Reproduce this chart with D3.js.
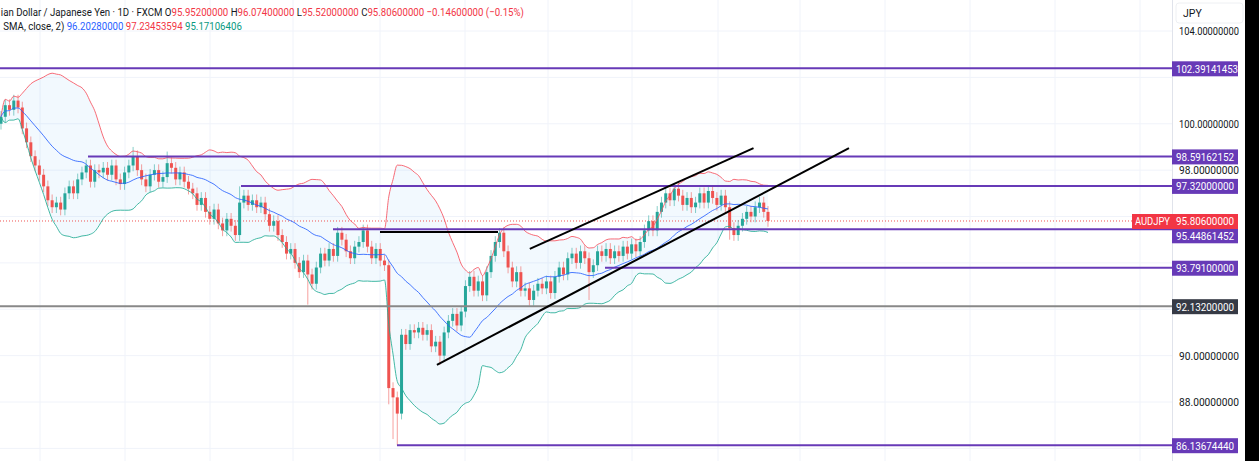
<!DOCTYPE html>
<html><head><meta charset="utf-8">
<script src="https://cdn.jsdelivr.net/npm/d3@7"></script>
<style>body{margin:0;background:#fff;font-family:Roboto,"Liberation Sans",sans-serif}</style>
</head><body><div id="chart"></div>
<script>
var width = 1259, height = 461;

// daily closes
var closes = [100.3,100.8,100.6,101.0,100.7,99.8,99.2,98.6,98.2,97.8,97.3,96.7,96.4,96.6,96.3,97.0,97.3,97.0,97.6,97.9,
  98.2,97.5,98.0,97.9,98.1,97.8,98.2,97.6,97.4,97.9,98.2,98.6,98.0,97.6,97.3,97.8,98.0,97.5,97.7,98.3,
  98.1,97.6,97.9,97.5,97.2,97.0,96.5,96.8,96.2,95.9,96.3,95.7,95.4,95.9,95.6,95.2,96.6,96.9,96.5,96.7,
  96.4,96.6,96.1,95.6,95.8,95.2,94.9,94.4,94.6,94.0,93.6,94.1,93.5,93.1,93.8,94.4,94.1,94.6,94.3,95.3,
  95.0,94.5,94.2,94.7,94.9,95.4,94.7,94.2,94.6,94.1,93.9,88.6,88.2,87.5,90.9,90.5,91.1,91.0,91.2,90.9,
  91.1,90.4,90.6,90.0,91.0,91.5,91.8,91.3,91.9,93.0,93.4,92.8,93.2,92.6,93.6,94.3,94.9,95.3,94.5,93.8,
  93.2,93.6,92.8,92.9,92.4,92.8,93.1,92.9,93.2,92.7,93.4,93.8,93.5,94.2,94.4,94.0,94.5,94.2,93.6,93.9,
  94.5,94.3,94.6,94.2,94.5,94.3,94.7,94.4,94.8,94.5,94.9,95.4,95.8,95.4,96.2,96.6,97.0,96.7,97.2,96.9,
  96.5,96.8,96.4,96.6,97.0,96.6,97.1,96.8,96.5,96.9,96.4,95.5,95.2,95.6,95.9,96.2,96.0,96.4,96.6,96.2,95.806];
var firstOpen = 100.0;
// notable wick extremes
var specialLows = {93: 86.137, 92: 86.4, 91: 87.9, 72: 92.2, 103: 89.6, 138: 92.4, 171: 95.0};
var specialHighs = {31: 99.0, 39: 98.8, 117: 95.5, 158: 97.45, 56: 97.3};

var hLines = [
  {price: 102.39141453, from: 0, color: "#673ab7", label: "102.39141453"},
  {price: 98.59162152, from: 88, color: "#673ab7", label: "98.59162152"},
  {price: 97.32, from: 241, color: "#673ab7", label: "97.32000000"},
  {price: 95.44861452, from: 333, color: "#673ab7", label: "95.44861452", shift: 6},
  {price: 93.791, from: 605, color: "#673ab7", label: "93.79100000"},
  {price: 92.132, from: 0, color: "#888888", label: "92.13200000", bg: "#363a45"},
  {price: 86.1367444, from: 397, color: "#673ab7", label: "86.13674440"}
];
var trendLines = [
  [[102.3, 89.6], [199, 98.95]],
  [[124.1, 94.6], [176.6, 98.95]]
];
var priceTicks = [104, 102, 100, 98, 96, 94, 90, 88];

var plotRight = 1172;
var x = d3.scaleLinear().domain([0, 180]).range([1, 768]);
var y = d3.scaleLinear().domain([88, 104]).range([402, 31]);

var data = closes.map(function(c, i){
  var o = i === 0 ? firstOpen : closes[i-1];
  var hi = specialHighs[i] !== undefined ? specialHighs[i] : Math.max(o, c) + 0.25;
  var lo = specialLows[i] !== undefined ? specialLows[i] : Math.min(o, c) - 0.25;
  return {i: i, o: o, c: c, h: hi, l: lo};
});

// bollinger (20, 2)
var bb = data.map(function(d, i){
  var w = closes.slice(Math.max(0, i-19), i+1);
  var m = d3.mean(w), sd = Math.sqrt(d3.mean(w, function(v){ return (v-m)*(v-m); }));
  return {i: i, m: m, u: m + 2*sd, l: m - 2*sd};
});

var svg = d3.select("#chart").append("svg").attr("width", width).attr("height", height);

// grid
svg.selectAll(".hg").data(d3.range(86, 106, 2)).enter().append("line")
  .attr("x1", 0).attr("x2", plotRight).attr("y1", d => y(d)).attr("y2", d => y(d))
  .attr("stroke", "#f0f3fa");
svg.selectAll(".vg").data([40, 125, 210, 293, 380, 465, 548, 632, 718, 800, 885, 970, 1055, 1140]).enter().append("line")
  .attr("x1", d => d).attr("x2", d => d).attr("y1", 0).attr("y2", height)
  .attr("stroke", "#f0f3fa");

// band fill
svg.append("path").datum(bb)
  .attr("d", d3.area().x(d => x(d.i)).y0(d => y(d.l)).y1(d => y(d.u)).curve(d3.curveMonotoneX))
  .attr("fill", "rgba(33,150,243,0.06)");

// current price dotted
svg.append("line").attr("x1", 0).attr("x2", plotRight).attr("y1", y(95.806)).attr("y2", y(95.806))
  .attr("stroke", "#ef5350").attr("stroke-dasharray", "1,2");

// candles
var g = svg.append("g");
g.selectAll(".wick").data(data).enter().append("line")
  .attr("x1", d => x(d.i)).attr("x2", d => x(d.i))
  .attr("y1", d => y(d.h)).attr("y2", d => y(d.l))
  .attr("stroke", d => d.c >= d.o ? "#26a69a" : "#ef5350").attr("stroke-opacity", 0.55);
g.selectAll(".body").data(data).enter().append("rect")
  .attr("x", d => x(d.i) - 1.5).attr("width", 3)
  .attr("y", d => y(Math.max(d.o, d.c)))
  .attr("height", d => Math.max(1, Math.abs(y(d.o) - y(d.c))))
  .attr("fill", d => d.c >= d.o ? "#26a69a" : "#ef5350");

// bands
[["u", "#f7525f"], ["l", "#22ab94"], ["m", "#2962ff"]].forEach(function(b){
  svg.append("path").datum(bb)
    .attr("d", d3.line().x(d => x(d.i)).y(d => y(d[b[0]])).curve(d3.curveMonotoneX))
    .attr("fill", "none").attr("stroke", b[1]).attr("stroke-width", 1).attr("stroke-opacity", 0.85);
});

// horizontal levels
svg.selectAll(".lvl").data(hLines).enter().append("line")
  .attr("x1", d => d.from).attr("x2", plotRight)
  .attr("y1", d => y(d.price)).attr("y2", d => y(d.price))
  .attr("stroke", d => d.color).attr("stroke-width", 2);
svg.append("line").attr("x1", 380).attr("x2", 498).attr("y1", y(95.33)).attr("y2", y(95.33))
  .attr("stroke", "#000").attr("stroke-width", 2);

// trend channel
svg.selectAll(".tl").data(trendLines).enter().append("line")
  .attr("x1", d => x(d[0][0])).attr("y1", d => y(d[0][1]))
  .attr("x2", d => x(d[1][0])).attr("y2", d => y(d[1][1]))
  .attr("stroke", "#000").attr("stroke-width", 2);

// price axis
svg.append("rect").attr("x", plotRight).attr("y", 0).attr("width", 73).attr("height", height).attr("fill", "#fff");
svg.append("line").attr("x1", plotRight+0.5).attr("x2", plotRight+0.5).attr("y1", 0).attr("y2", height).attr("stroke", "#e0e3eb");
svg.append("rect").attr("x", 1245).attr("y", 0).attr("width", 14).attr("height", height).attr("fill", "#000");
svg.append("rect").attr("x", 1176).attr("y", 3).attr("width", 67).attr("height", 20).attr("rx", 3)
  .attr("fill", "#fff").attr("stroke", "#eef0f3");
svg.append("text").attr("x", 1183).attr("y", 17).text("JPY").attr("font-size", 10.5).attr("fill", "#131722");
// ticks hidden by level labels are left out
svg.selectAll(".tk").data(priceTicks.filter(t => !hLines.concat([{price: 95.806}]).some(h => Math.abs(y(h.price) - y(t)) < 13))).enter().append("text")
  .attr("x", 1179).attr("y", d => y(d) + 4).text(d => d.toFixed(8))
  .attr("font-size", 10.5).attr("textLength", 60).attr("lengthAdjust", "spacingAndGlyphs").attr("fill", "#131722");

var labels = hLines.map(d => ({p: d.price, t: d.label, bg: d.bg || "#673ab7", s: d.shift || 0}));
labels.push({p: 95.806, t: "95.80600000", bg: "#f23645", s: 0});
var lg = svg.selectAll(".lb").data(labels).enter().append("g")
  .attr("transform", d => "translate(" + plotRight + "," + (y(d.p) - 7 + d.s) + ")");
lg.append("rect").attr("width", 66).attr("height", 15).attr("fill", d => d.bg);
lg.append("text").attr("x", 4).attr("y", 11.5).text(d => d.t).attr("font-size", 10.5)
  .attr("textLength", d => d.t.length > 11 ? 62 : 58).attr("lengthAdjust", "spacingAndGlyphs").attr("fill", "#fff");
svg.append("rect").attr("x", 1132).attr("y", y(95.806) - 7).attr("width", 40).attr("height", 15).attr("fill", "#f23645");
svg.append("text").attr("x", 1135).attr("y", y(95.806) + 4.5).text("AUDJPY").attr("font-size", 10.5)
  .attr("textLength", 35).attr("lengthAdjust", "spacingAndGlyphs").attr("fill", "#fff");

// header (narrowed to match the reference's condensed UI font)
var hdr = svg.append("g").attr("transform", "scale(0.84,1)");
var h1 = hdr.append("text").attr("x", 1).attr("y", 16).attr("font-size", 11.5);
h1.append("tspan").attr("fill", "#131722").text("ian Dollar / Japanese Yen · 1D · FXCM  ");
[["O", "95.95200000"], ["H", "96.07400000"], ["L", "95.52000000"], ["C", "95.80600000"]].forEach(function(p){
  h1.append("tspan").attr("fill", "#131722").text(p[0]);
  h1.append("tspan").attr("fill", "#f23645").text(p[1] + "  ");
});
h1.append("tspan").attr("fill", "#f23645").text("−0.14600000 (−0.15%)");
var h2 = hdr.append("text").attr("x", 4).attr("y", 30).attr("font-size", 11.5);
h2.append("tspan").attr("fill", "#131722").text("SMA, close, 2)  ");
h2.append("tspan").attr("fill", "#2962ff").text("96.20280000  ");
h2.append("tspan").attr("fill", "#f23645").text("97.23453594  ");
h2.append("tspan").attr("fill", "#089981").text("95.17106406");
</script></body></html>
